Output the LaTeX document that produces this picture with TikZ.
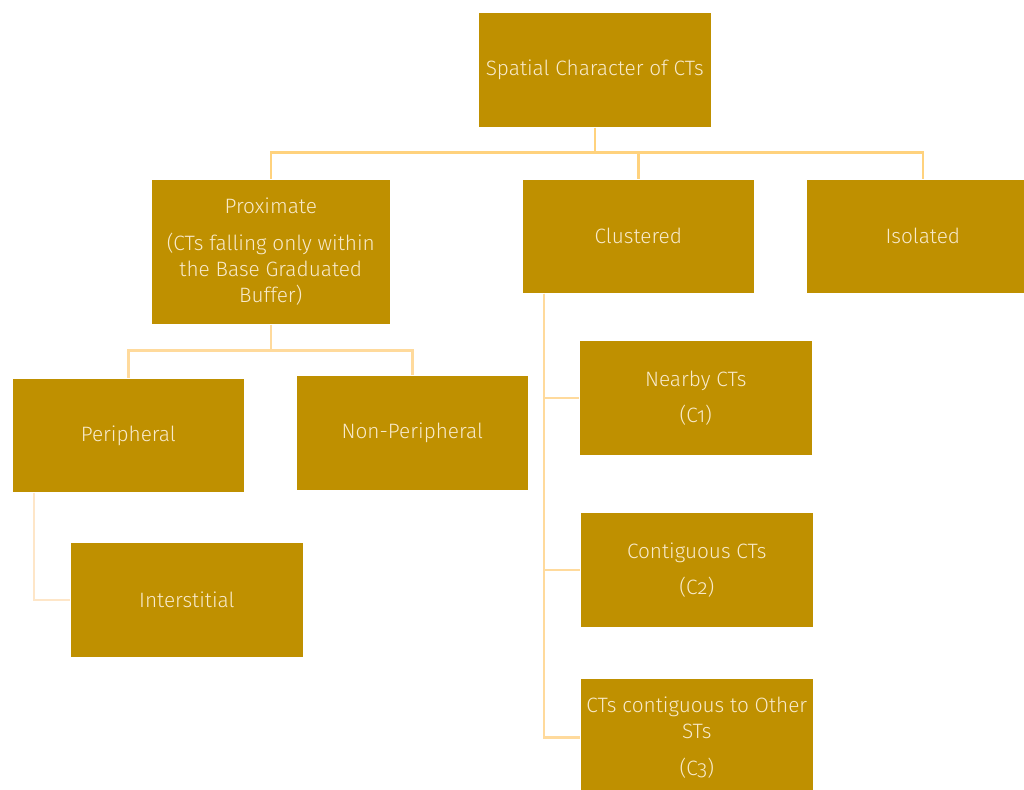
\documentclass[tikz,border=0pt]{standalone}
\usepackage{fontspec}
\setmainfont{Fira Sans Light}[Numbers=OldStyle]
\usetikzlibrary{calc}
\definecolor{boxfill}{HTML}{BF9000}
\definecolor{boxtext}{HTML}{F8EACB}
\definecolor{lineA}{HTML}{FFD27D}
\definecolor{lineB}{HTML}{FFDA9C}
\definecolor{lineC}{HTML}{FEE6C8}
\begin{document}
\begin{tikzpicture}[x=1pt,y=-1pt,
  box/.style={fill=boxfill,draw=white,line width=0.6pt,anchor=north west,inner sep=1pt,
    text=boxtext,align=center,font=\fontsize{20.8}{26}\selectfont,
    minimum width=233pt,minimum height=115pt},
  conA/.style={draw=lineA,line width=2.4pt},
  conB/.style={draw=lineB,line width=2.4pt},
  conC/.style={draw=lineC,line width=2.4pt}]
\useasboundingbox (0,0) rectangle (1024,789);
\begin{scope}
\clip (0,0) rectangle (1024,789);
\node[box] (root) at (478,12) {Spatial Character of CTs};
\node[box,minimum width=239pt,minimum height=145pt] (prox) at (151,179) {Proximate\\[11pt](CTs falling only within\\the Base Graduated\\Buffer)};
\node[box,minimum width=232pt,minimum height=114pt] (clust) at (522,179) {Clustered};
\node[box,minimum width=233pt,minimum height=114pt] (iso) at (806,179) {Isolated};
\node[box,minimum width=232pt,minimum height=114pt] (peri) at (12,378) {Peripheral};
\node[box,minimum width=232pt,minimum height=115pt] (nonp) at (296,375) {Non-Peripheral};
\node[box,minimum width=233pt,minimum height=115pt] (inter) at (70,542) {Interstitial};
\node[box] (near) at (579,340) {Nearby CTs\\[10pt](C1)};
\node[box] (cont) at (580,512) {Contiguous CTs\\[10pt](C2)};
\node[box,minimum height=118pt,inner sep=0pt] (other) at (580,678) {CTs contiguous to Other\\STs\\[11pt](C3)};
\end{scope}
\coordinate (busA) at ($(root.south)+(0,25)$);
\draw[conA] (root.south) -- (busA) -| (prox.north);
\draw[conA] (busA) -| (clust.north);
\draw[conA] (busA) -| (iso.north);
\coordinate (busB) at ($(prox.south)+(0,26)$);
\draw[conB] (prox.south) -- (busB) -| (peri.north);
\draw[conB] (busB) -| (nonp.north);
\coordinate (periStem) at ($(peri.south west)+(22,0)$);
\draw[conC] (periStem) |- (inter.west);
\coordinate (clStem) at ($(clust.south west)+(22,0)$);
\draw[conB] (clStem) |- (near.west);
\draw[conB] (clStem) |- (cont.west);
\draw[conB] (clStem) |- (other.west);
\end{tikzpicture}
\end{document}
